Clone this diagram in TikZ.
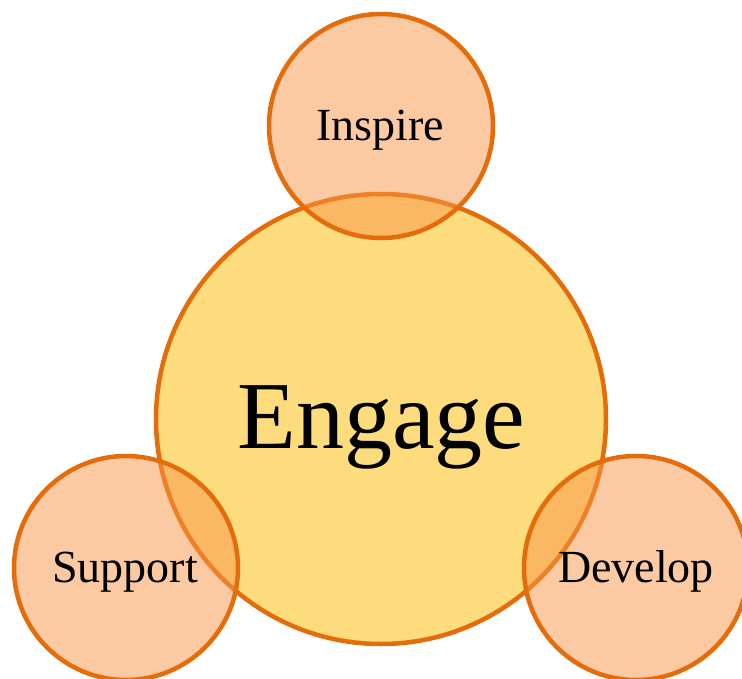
\documentclass[tikz,border=0pt]{standalone}
\usepackage{fontspec}
\setmainfont{Liberation Serif}
\definecolor{ringorange}{HTML}{E46C0A}
\definecolor{bigfill}{HTML}{FDDC7E}
\definecolor{smallfill}{HTML}{F79646}
\begin{document}
\begin{tikzpicture}[x=1pt,y=-1pt,
  bigring/.style={circle,draw=ringorange,fill=bigfill,line width=4.5pt,minimum size=450pt,inner sep=0pt},
  smallring/.style={circle,draw=ringorange,fill=smallfill,fill opacity=0.5,draw opacity=1,line width=4.5pt,minimum size=224pt,inner sep=0pt},
  bigtext/.style={anchor=base,font=\fontsize{96}{96}\selectfont,inner sep=0pt},
  smalltext/.style={anchor=base,font=\fontsize{46}{46}\selectfont,inner sep=0pt}]
\useasboundingbox (0,0) rectangle (742,678);
\clip (0,0) rectangle (742,678);
\node[bigring] (engage) at (381,419) {};
\node[smallring] (inspire) at (381,126) {};
\node[smallring] (support) at (126,568) {};
\node[smallring] (develop) at (636,568) {};
\node[bigtext] (engagetext) at (381.5,448) {Engage};
\node[smalltext] (inspiretext) at (380,140) {Inspire};
\node[smalltext] (supporttext) at (125,582) {Support};
\node[smalltext] (developtext) at (636,582) {Develop};
\end{tikzpicture}
\end{document}
